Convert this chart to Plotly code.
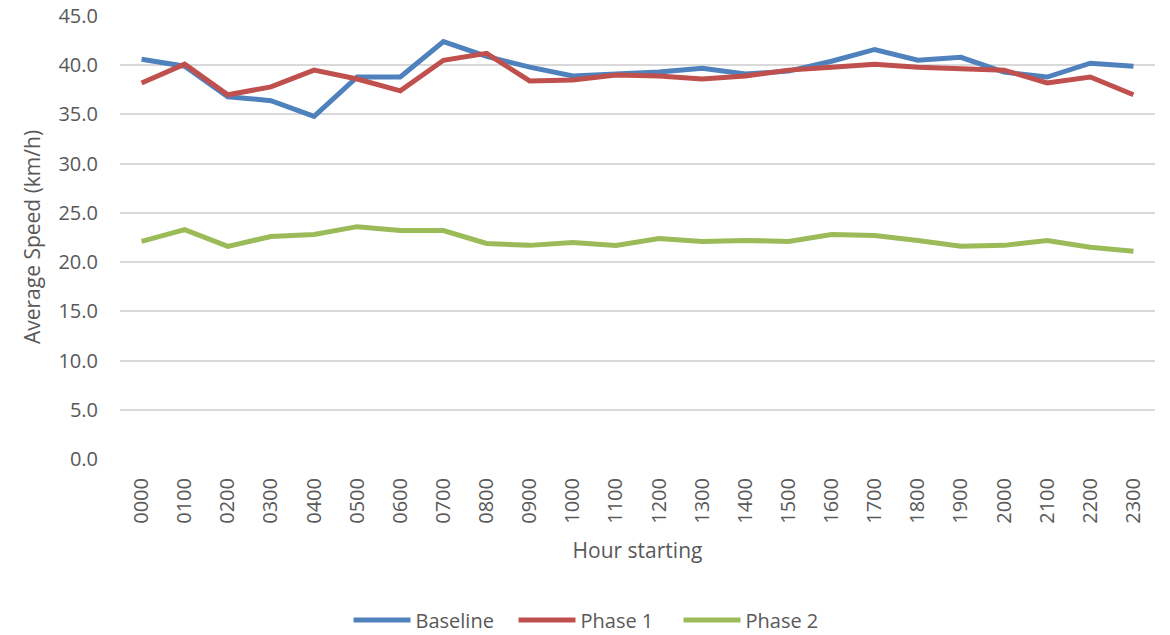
import plotly.graph_objects as go

hours = ["0000", "0100", "0200", "0300", "0400", "0500", "0600", "0700", "0800", "0900",
         "1000", "1100", "1200", "1300", "1400", "1500", "1600", "1700", "1800", "1900",
         "2000", "2100", "2200", "2300"]
baseline = [40.6, 39.9, 36.8, 36.4, 34.8, 38.8, 38.8, 42.4, 40.9, 39.8,
            38.9, 39.1, 39.3, 39.7, 39.1, 39.4, 40.4, 41.6, 40.5, 40.8,
            39.3, 38.8, 40.2, 39.9]
phase1 = [38.2, 40.1, 37.0, 37.8, 39.5, 38.6, 37.4, 40.5, 41.2, 38.4,
          38.5, 39.0, 38.9, 38.6, 38.9, 39.5, 39.8, 40.1, 39.8, 39.6,
          39.5, 38.2, 38.8, 37.0]
phase2 = [22.1, 23.3, 21.6, 22.6, 22.8, 23.6, 23.2, 23.2, 21.9, 21.7,
          22.0, 21.7, 22.4, 22.1, 22.2, 22.1, 22.8, 22.7, 22.2, 21.6,
          21.7, 22.2, 21.5, 21.1]
yticks = [0, 5, 10, 15, 20, 25, 30, 35, 40, 45]

FONT = "Open Sans"
GREY = "#595959"

fig = go.Figure()
for name, vals, color in [("Baseline", baseline, "#4F81BD"),
                          ("Phase 1", phase1, "#C0504D"),
                          ("Phase 2", phase2, "#9BBB59")]:
    fig.add_trace(go.Scatter(x=hours, y=vals, mode="lines", name=name,
                             line=dict(color=color, width=5)))

fig.update_layout(
    width=1170, height=635,
    margin=dict(l=120, r=15, t=15, b=176, autoexpand=False),
    plot_bgcolor="white", paper_bgcolor="white",
    font=dict(family=FONT, color=GREY, size=20),
    showlegend=True,
    legend=dict(orientation="h", xref="container", x=0.5094, xanchor="center",
                yref="container", y=0.0236, yanchor="middle",
                font=dict(size=20, color=GREY), itemwidth=57, entrywidth=93,
                tracegroupgap=0),
    xaxis=dict(type="category", range=[-0.5, 23.5], tickangle=-90, automargin=False,
               showgrid=False, showline=False, zeroline=False, ticks="",
               ticklabelstandoff=14, ticklabeloverflow="allow",
               tickfont=dict(size=20, color=GREY),
               title=dict(text="Hour starting", font=dict(size=21, color=GREY), standoff=20)),
    yaxis=dict(range=[0, 45.1], tickvals=yticks, tickformat=".1f", automargin=False,
               showgrid=True, gridcolor="#D9D9D9", gridwidth=1.5,
               zeroline=False, showline=False, ticks="", ticklabelstandoff=21,
               ticklabeloverflow="allow",
               tickfont=dict(size=20, color=GREY),
               title=dict(text="Average Speed (km/h)", font=dict(size=21, color=GREY), standoff=12)),
)

fig.write_html("out.html", config={"displayModeBar": False},
               post_script="document.body.style.margin='0';document.body.style.overflow='hidden';")
